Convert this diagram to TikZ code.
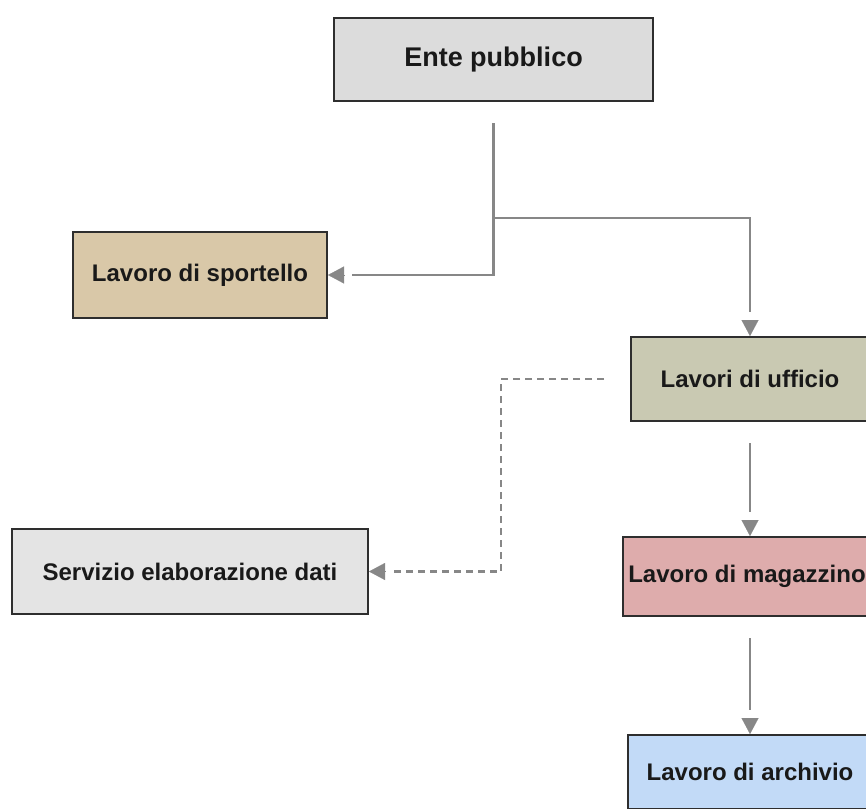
\documentclass[tikz,border=0pt]{standalone}
\usepackage{fontspec}
\setmainfont{Liberation Sans}
\usetikzlibrary{arrows.meta,positioning}
\definecolor{entefill}{HTML}{DCDCDC}
\definecolor{sportfill}{HTML}{D9C8A8}
\definecolor{ufffill}{HTML}{C9C9B2}
\definecolor{magfill}{HTML}{DEACAC}
\definecolor{servfill}{HTML}{E4E4E4}
\definecolor{archfill}{HTML}{C2DAF7}
\definecolor{linegray}{HTML}{878787}
\definecolor{boxline}{HTML}{2E2E2E}
\begin{document}
\begin{tikzpicture}[x=1pt,y=-1pt,
  box/.style={draw=boxline,line width=2pt,rectangle,inner sep=0pt,
    text=black!90,font=\bfseries\fontsize{24}{28}\selectfont},
  conn/.style={draw=linegray,line width=2.8pt,shorten >=24pt},
  dconn/.style={conn,dash pattern=on 7pt off 5pt},
  tipstyle/.style={draw=linegray,line width=0.1pt,
    -{Triangle[length=16pt,width=17pt]}}]
\useasboundingbox (0,0) rectangle (866,808);
\clip (0,0) rectangle (866,808);
\fill[white] (0,0) rectangle (866,808);
\node[box,fill=entefill,minimum width=319pt,minimum height=83pt,
  font=\bfseries\fontsize{27}{30}\selectfont] (ente) at (493.5,59.5) {Ente pubblico};
\node[box,fill=sportfill,minimum width=254pt,minimum height=86pt] (sport) at (200,275) {Lavoro di sportello};
\node[box,fill=ufffill,minimum width=238pt,minimum height=84pt] (uff) at (750,379) {Lavori di ufficio};
\node[box,fill=magfill,minimum width=248pt,minimum height=79pt] (mag) at (747,576.5) {Lavoro di magazzino};
\node[box,fill=servfill,minimum width=356pt,minimum height=85pt] (serv) at (190,571.5) {Servizio elaborazione dati};
\node[box,fill=archfill,minimum width=244pt,minimum height=74pt] (arch) at (750,772) {Lavoro di archivio};
% connectors
\draw[conn] ([yshift=-21pt]ente.south) |- (sport.east);
\draw[tipstyle] ([xshift=16pt]sport.east) -- (sport.east);
\draw[conn] ([yshift=-21pt]ente.south) |- ([yshift=118pt]uff.north) -- (uff.north);
\draw[tipstyle] ([yshift=16pt]uff.north) -- (uff.north);
\draw[conn] ([yshift=-21pt]uff.south) -- (uff.south |- mag.north);
\draw[tipstyle] ([yshift=16pt]uff.south |- mag.north) -- (uff.south |- mag.north);
\draw[conn] ([yshift=-21pt]mag.south -| arch.north) -- (arch.north);
\draw[tipstyle] ([yshift=16pt]arch.north) -- (arch.north);
\draw[dconn] ([xshift=-26pt]uff.west) -| ([xshift=132pt]serv.east) -- (serv.east);
\draw[tipstyle] ([xshift=16pt]serv.east) -- (serv.east);
\end{tikzpicture}
\end{document}
